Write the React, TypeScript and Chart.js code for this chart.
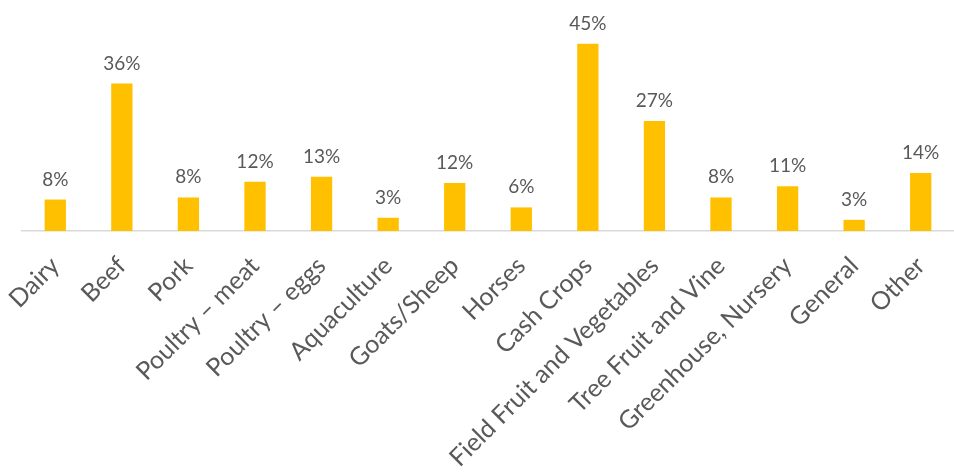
import React, { useEffect, useRef } from "react";
import { Chart, registerables } from "chart.js";

Chart.register(...registerables);

const categories = [
  "Dairy",
  "Beef",
  "Pork",
  "Poultry – meat",
  "Poultry – eggs",
  "Aquaculture",
  "Goats/Sheep",
  "Horses",
  "Cash Crops",
  "Field Fruit and Vegetables",
  "Tree Fruit and Vine",
  "Greenhouse, Nursery",
  "General",
  "Other",
];

const shares = [7.6, 35.6, 8.1, 11.9, 13.1, 3.2, 11.6, 5.7, 45.2, 26.6, 8.1, 10.8, 2.7, 14.0];

const BAR_COLOR = "#FFC000";
const TEXT_COLOR = "#595959";
const FONT = "Lato, 'Open Sans', sans-serif";

const dataLabels = {
  id: "dataLabels",
  afterDatasetsDraw(chart: any) {
    const ctx = chart.ctx;
    const meta = chart.getDatasetMeta(0);
    ctx.save();
    ctx.font = `19px ${FONT}`;
    ctx.fillStyle = TEXT_COLOR;
    ctx.textAlign = "center";
    ctx.textBaseline = "alphabetic";
    meta.data.forEach((bar: any, i: number) => {
      const v = chart.data.datasets[0].data[i];
      ctx.fillText(`${Math.round(v)}%`, bar.x, bar.y - 14);
    });
    ctx.restore();
  },
};

export default function App() {
  const ref = useRef<HTMLCanvasElement | null>(null);
  useEffect(() => {
    if (!ref.current) return;
    const chart = new Chart(ref.current, {
      type: "bar",
      data: {
        labels: categories,
        datasets: [
          {
            data: shares,
            backgroundColor: BAR_COLOR,
            barPercentage: 0.32,
            categoryPercentage: 1,
          },
        ],
      },
      options: {
        animation: false,
        responsive: true,
        maintainAspectRatio: false,
        layout: { padding: { left: 22, right: 0, top: 24, bottom: 0 } },
        plugins: { legend: { display: false }, tooltip: { enabled: false } },
        scales: {
          x: {
            grid: { display: false, drawTicks: false },
            border: { display: true, color: "#d9d9d9", width: 1.5 },
            ticks: {
              autoSkip: false,
              maxRotation: 45,
              minRotation: 45,
              padding: 20,
              color: TEXT_COLOR,
              font: { family: FONT, size: 25 },
            },
            afterFit: (scale: any) => {
              scale.height = 242;
              scale.paddingLeft = 0;
              scale.paddingRight = 0;
            },
          },
          y: {
            display: false,
            min: 0,
            max: 50,
          },
        },
      },
      plugins: [dataLabels],
    });
    return () => chart.destroy();
  }, []);
  return (
    <div style={{ position: "fixed", left: 0, top: 0, width: 954, height: 473, background: "#fff" }}>
      <canvas ref={ref} />
    </div>
  );
}
